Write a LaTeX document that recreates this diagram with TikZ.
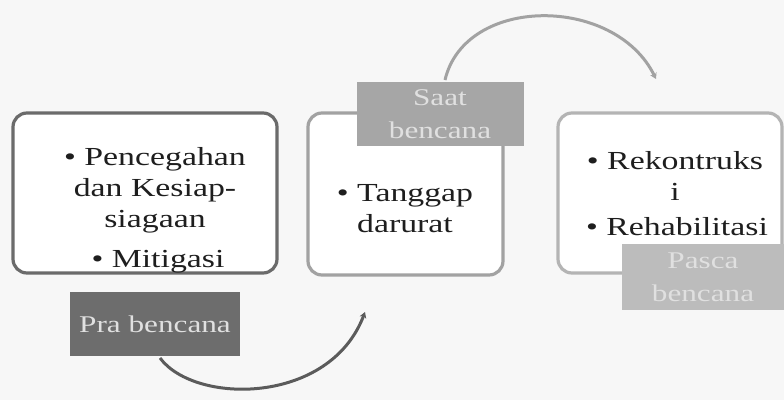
\documentclass[tikz,border=0pt]{standalone}
\usepackage{fontspec}
\setmainfont{Liberation Serif}
\usetikzlibrary{arrows.meta}
\definecolor{pagebg}{HTML}{F7F7F7}
\definecolor{edgeA}{HTML}{6B6B6B}
\definecolor{edgeB}{HTML}{A2A2A2}
\definecolor{edgeC}{HTML}{B4B4B4}
\definecolor{tagA}{HTML}{6D6D6D}
\definecolor{tagB}{HTML}{A6A6A6}
\definecolor{tagC}{HTML}{BCBCBC}
\definecolor{inkdark}{HTML}{1E1E1E}
\tikzset{
  phasebox/.style={fill=white, rounded corners=14pt, line width=3.2pt},
  bodytext/.style={text=inkdark, align=center, xscale=1.3, transform shape,
    font=\fontsize{26}{31}\selectfont, inner sep=0pt},
  tagtext/.style={text=white!88!black, align=center, xscale=1.3, transform shape,
    font=\fontsize{24}{33}\selectfont, inner sep=0pt},
  cyclearrow/.style={line width=3pt, -{Stealth[length=6pt,width=7pt]}}
}
\begin{document}
\begin{tikzpicture}[x=1pt,y=-1pt]
  \fill[pagebg] (0,0) rectangle (784,400);
  \useasboundingbox (0,0) rectangle (784,400);

  % three phase panels
  \draw[phasebox, draw=edgeA] (13,113) rectangle (277,273);
  \draw[phasebox, draw=edgeB] (308,113) rectangle (503,275);
  \draw[phasebox, draw=edgeC] (558,113) rectangle (782,273);

  % panel contents
  \node[bodytext] (prev) at (155,190) {• Pencegahan\\dan Kesiap-\\siagaan};
  \node[bodytext] (mitig) at (158,262) {• Mitigasi};
  \node[bodytext] (resp) at (405,209) {• Tanggap\\darurat};
  \node[bodytext] (recon) at (675,176) {• Rekontruks\\i};
  \node[bodytext] (rehab) at (677,227) {• Rehabilitasi};

  % phase tags
  \fill[tagA] (70,292) rectangle (240,356);
  \node[tagtext] (pra) at (155,324) {Pra bencana};
  \fill[tagB] (357,82) rectangle (524,146);
  \node[tagtext] (saat) at (440,114) {Saat\\bencana};
  \fill[tagC] (622,244) rectangle (784,310);
  \node[tagtext] (pasca) at (703,277) {Pasca\\bencana};

  % cycle arrows
  \coordinate (praout) at (160,358);
  \coordinate (toresp) at (365,312);
  \coordinate (saatout) at (445,80);
  \coordinate (topasca) at (656,79);
  \draw[cyclearrow, draw=edgeA!85!black] (praout) .. controls (195,405) and (330,405) .. (toresp);
  \draw[cyclearrow, draw=edgeB] (saatout) .. controls (465,-5) and (615,-5) .. (topasca);
\end{tikzpicture}
\end{document}
